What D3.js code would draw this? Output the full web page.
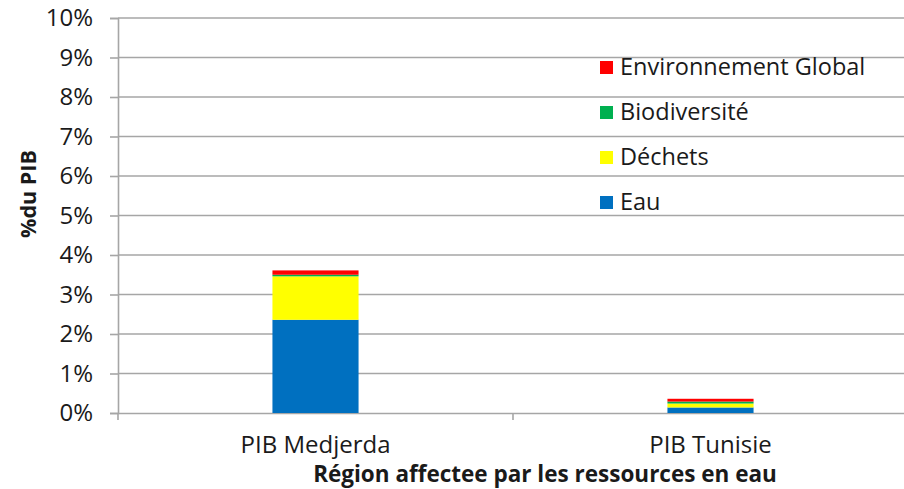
<!DOCTYPE html>
<html>
<head>
<meta charset="utf-8">
<script src="https://cdn.jsdelivr.net/npm/d3@7"></script>
<style>
    body { margin: 0; background: #fff; }
    text { font-family: "Open Sans", sans-serif; fill: #1a1a1a; }
</style>
</head>
<body>
<div id="chart"></div>
<script>
const categories = ["PIB Medjerda", "PIB Tunisie"];
const seriesNames = ["Eau", "Déchets", "Biodiversité", "Environnement Global"];
const seriesColors = ["#0070c0", "#ffff00", "#00b050", "#ff0000"];
const eau = [2.36, 0.14];
const dechets = [1.10, 0.10];
const biodiversite = [0.04, 0.05];
const environnementGlobal = [0.11, 0.07];
const yTicks = [0, 1, 2, 3, 4, 5, 6, 7, 8, 9, 10];

const width = 904;
const height = 489;
const margin = { left: 118, right: -4, top: 18, bottom: 76 };

const rows = categories.map((c, i) => ({
    category: c,
    "Eau": eau[i],
    "Déchets": dechets[i],
    "Biodiversité": biodiversite[i],
    "Environnement Global": environnementGlobal[i]
}));

const svg = d3.select("#chart")
    .append("svg")
    .attr("width", width)
    .attr("height", height);

const x = d3.scaleBand()
    .domain(categories)
    .range([margin.left, width - margin.right]);

const y = d3.scaleLinear()
    .domain([0, 10])
    .range([height - margin.bottom, margin.top]);

const color = d3.scaleOrdinal().domain(seriesNames).range(seriesColors);

// gridlines
svg.append("g")
    .selectAll("line")
    .data(yTicks.filter(d => d > 0))
    .join("line")
    .attr("x1", margin.left)
    .attr("x2", width)
    .attr("y1", d => y(d))
    .attr("y2", d => y(d))
    .attr("stroke", "#a6a6a6")
    .attr("stroke-width", 1.6);

// y axis
const yAxis = svg.append("g")
    .attr("transform", `translate(${margin.left},0)`)
    .call(d3.axisLeft(y).tickValues(yTicks).tickFormat(d => d + "%").tickSize(8).tickPadding(17));
yAxis.selectAll("text").style("font-size", "24px");

// x axis
const xAxis = svg.append("g")
    .attr("transform", `translate(0,${y(0)})`)
    .call(d3.axisBottom(x).tickSize(0).tickPadding(23));
xAxis.selectAll("text").style("font-size", "24px");
xAxis.append("g")
    .selectAll("line")
    .data(categories)
    .join("line")
    .attr("x1", d => x(d))
    .attr("x2", d => x(d))
    .attr("y1", 0)
    .attr("y2", 7)
    .attr("stroke", "#a6a6a6")
    .attr("stroke-width", 1.6);

[yAxis, xAxis].forEach(a => {
    a.select(".domain").attr("stroke", "#a6a6a6").attr("stroke-width", 1.6);
    a.selectAll(".tick line").attr("stroke", "#a6a6a6").attr("stroke-width", 1.6);
});

// stacked bars
const stacked = d3.stack().keys(seriesNames)(rows);
const barWidth = x.bandwidth() * 0.218;

svg.append("g")
    .selectAll("g")
    .data(stacked)
    .join("g")
    .attr("fill", d => color(d.key))
    .selectAll("rect")
    .data(d => d)
    .join("rect")
    .attr("x", d => x(d.data.category) + x.bandwidth() / 2 - barWidth / 2)
    .attr("width", barWidth)
    .attr("y", d => y(d[1]))
    .attr("height", d => y(d[0]) - y(d[1]));

// axis titles
svg.append("text")
    .attr("transform", `translate(36,194) rotate(-90)`)
    .attr("text-anchor", "middle")
    .style("font-size", "21.5px")
    .style("font-weight", "bold")
    .text("%du PIB");

svg.append("text")
    .attr("x", 545)
    .attr("y", 482)
    .attr("text-anchor", "middle")
    .style("font-size", "22.5px")
    .style("font-weight", "bold")
    .text("Région affectee  par les ressources en eau");

// legend
const legendNames = seriesNames.slice().reverse();
const legendY = [67, 112, 157, 202];

const legend = svg.append("g")
    .selectAll("g")
    .data(legendNames)
    .join("g")
    .attr("transform", (d, i) => `translate(600,${legendY[i]})`);

legend.append("rect")
    .attr("x", 0)
    .attr("y", -6)
    .attr("width", 13)
    .attr("height", 13)
    .attr("fill", d => color(d));

legend.append("text")
    .attr("x", 20)
    .attr("dy", "0.35em")
    .style("font-size", "23.5px")
    .text(d => d);
</script>
</body>
</html>
